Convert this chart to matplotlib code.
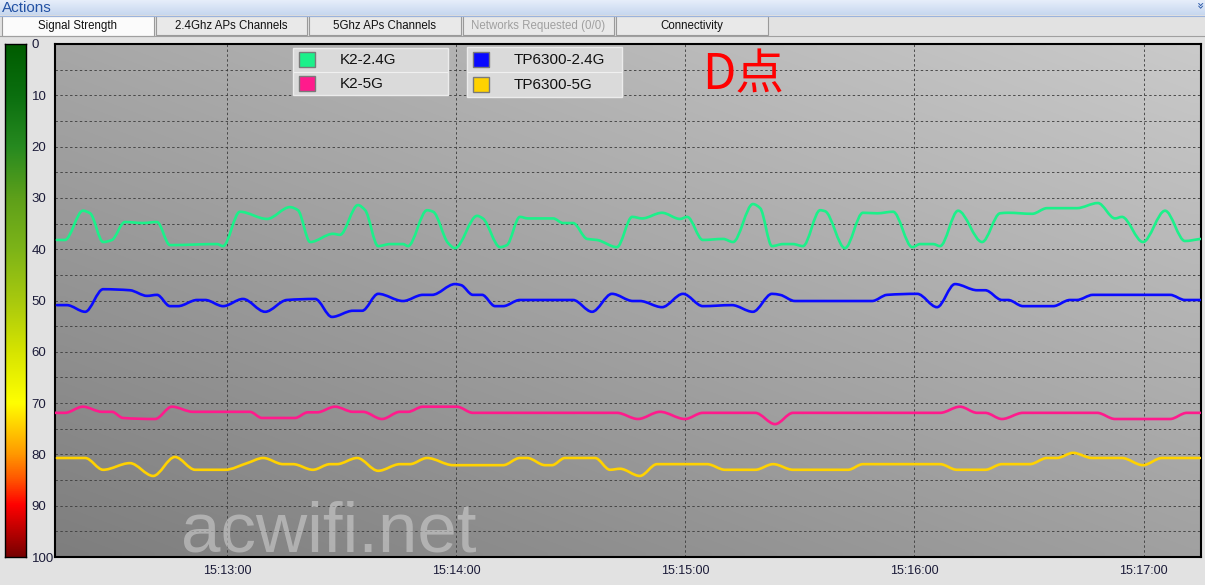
import numpy as np
import matplotlib
matplotlib.use('Agg')
import matplotlib.pyplot as plt
from matplotlib.path import Path
from matplotlib.patches import PathPatch, Rectangle
from matplotlib.colors import LinearSegmentedColormap, to_rgb

plt.rcParams['font.family'] = ['Liberation Sans', 'DejaVu Sans']

# seconds after 15:12:00, signal value (0 top .. 100 bottom)
k2_24_t = [15.5, 17.6, 22.3, 24.2, 27.6, 29.9, 33.3, 38.0, 41.7, 45.1, 57.4, 59.0,
           63.4, 70.5, 76.5, 78.6, 81.8, 87.8, 89.6, 94.3, 96.2, 99.6, 102.7, 106.1,
           107.4, 112.4, 114.0, 117.9, 119.7, 125.5, 127.0, 131.5, 133.3, 136.7,
           138.8, 145.4, 148.0, 150.6, 154.3, 156.9, 162.1, 166.1, 168.7, 173.9,
           178.6, 180.5, 184.6, 189.9, 192.5, 197.7, 199.6, 202.7, 205.6, 208.2,
           210.8, 215.3, 216.6, 221.8, 226.5, 230.2, 234.4, 239.4, 241.5, 244.9,
           246.7, 251.4, 257.7, 262.4, 264.5, 270.8, 274.7, 282.5, 288.0, 292.5,
           294.3, 299.8, 305.6, 310.8, 314.8]
k2_24_v = [38.2, 38.2, 32.5, 33.0, 38.6, 38.2, 34.7, 34.9, 34.7, 39.2, 39.0, 39.4,
           32.7, 34.1, 31.8, 32.4, 38.6, 37.0, 37.2, 31.4, 32.4, 39.4, 39.0, 39.0,
           39.4, 32.4, 32.7, 38.8, 39.8, 33.5, 34.0, 39.6, 39.2, 33.7,
           34.0, 34.0, 34.9, 34.9, 38.0, 38.2, 39.6, 33.7, 34.0, 32.9,
           34.1, 33.7, 38.2, 38.0, 38.6, 31.2, 32.0, 39.4, 39.0, 39.0,
           39.4, 32.4, 32.6, 39.8, 32.9, 33.0, 32.7, 39.6, 39.0, 39.0,
           39.4, 32.5, 38.6, 33.0, 32.9, 33.1, 32.0, 32.0, 31.0, 34.0,
           33.7, 38.6, 32.5, 38.4, 38.0]

tp_24_t = [15.5, 18.1, 22.9, 27.6, 34.6, 39.1, 41.7, 45.1, 47.2, 52.2, 54.3, 59.0,
           64.2, 70.0, 75.7, 83.1, 87.5, 93.0, 95.4, 99.6, 106.1, 111.3, 113.7,
           119.7, 121.3, 124.4, 126.8, 130.2, 132.3, 136.7, 150.6, 155.6, 160.8,
           166.3, 168.1, 173.9, 179.4, 184.6, 192.2, 197.7, 202.7, 204.8, 208.7,
           228.9, 232.8, 240.7, 245.9, 250.6, 256.4, 258.5, 262.9, 264.5, 268.4,
           276.3, 280.7, 282.5, 286.7, 306.9, 310.8, 314.8]
tp_24_v = [50.9, 50.9, 52.2, 47.8, 48.0, 49.1, 48.9, 51.1, 51.1, 49.9, 49.9, 51.1,
           49.7, 52.2, 49.9, 49.7, 53.2, 52.0, 52.0, 48.7, 50.1, 48.9, 48.9,
           46.8, 47.0, 48.9, 48.9, 51.1, 51.1, 49.9, 49.9, 52.2, 48.7,
           50.1, 50.1, 51.3, 48.7, 51.1, 50.9, 52.2, 48.7, 48.9, 50.1,
           50.1, 48.9, 48.7, 51.3, 46.8, 48.0, 48.0, 49.9, 49.9, 51.1,
           51.1, 49.9, 49.9, 48.9, 48.9, 49.9, 49.9]

k2_5_t = [15.0, 17.6, 22.3, 27.3, 29.9, 32.8, 41.2, 45.6, 51.1, 66.0, 69.2, 77.8,
          81.2, 83.6, 88.3, 93.0, 95.6, 100.6, 105.3, 107.4, 111.3, 120.2, 124.4,
          162.1, 167.6, 173.4, 179.9, 184.6, 198.3, 203.5, 208.2, 246.7, 251.9,
          256.4, 258.5, 262.9, 268.4, 287.8, 292.5, 306.9, 311.3, 314.8]
k2_5_v = [71.9, 71.9, 70.7, 71.7, 71.7, 72.9, 73.1, 70.7, 71.7, 71.7, 72.9, 72.9,
          71.8, 71.8, 70.7, 71.7, 71.7, 73.1, 71.7, 71.7, 70.7, 70.7, 71.9,
          71.9, 73.1, 71.7, 73.1, 71.9, 71.9, 74.1, 71.9, 71.9, 70.7,
          71.9, 71.9, 73.1, 71.9, 71.9, 73.1, 73.1, 71.9, 71.9]

tp_5_t = [15.5, 22.9, 27.6, 34.6, 40.7, 46.4, 51.7, 59.5, 65.3, 69.5, 74.7, 77.3,
          82.5, 87.0, 88.8, 94.1, 99.6, 105.3, 107.9, 112.4, 119.2, 132.3, 136.7,
          138.6, 143.3, 145.1, 148.5, 156.4, 160.3, 162.9, 168.1, 172.6, 185.7,
          190.4, 198.3, 203.0, 208.2, 222.6, 226.5, 246.7, 251.1, 258.5, 262.9,
          270.2, 274.7, 277.3, 281.5, 286.5, 294.3, 299.8, 304.8, 314.8]
tp_5_v = [80.7, 80.7, 83.0, 81.7, 84.2, 80.5, 83.0, 83.0, 81.7, 80.7, 81.9, 81.9,
          83.0, 81.9, 81.9, 80.7, 83.2, 81.9, 81.9, 80.7, 82.1, 82.1, 80.7,
          80.7, 82.1, 82.1, 80.7, 80.7, 83.0, 82.8, 84.2, 81.9, 81.9,
          83.0, 83.0, 81.9, 83.0, 83.0, 81.9, 81.9, 83.0, 83.0, 81.9,
          81.9, 80.7, 80.7, 79.7, 80.7, 80.7, 82.1, 80.7, 80.7]

names = ['K2-2.4G', 'K2-5G', 'TP6300-2.4G', 'TP6300-5G']
colors = ['#1cf08a', '#ff1a8c', '#0a0aff', '#ffd200']
series = [(k2_24_t, k2_24_v), (k2_5_t, k2_5_v), (tp_24_t, tp_24_v), (tp_5_t, tp_5_v)]

tick_secs = [60, 120, 180, 240, 300]
tick_labels = ['15:13:00', '15:14:00', '15:15:00', '15:16:00', '15:17:00']
tabs = ['Signal Strength', '2.4Ghz APs Channels', '5Ghz APs Channels',
        'Networks Requested (0/0)', 'Connectivity']

W, H = 1205, 585


def px(x0, y0, x1, y1):
    return [x0 / W, 1 - y1 / H, (x1 - x0) / W, (y1 - y0) / H]


def smooth_path(xs, ys):
    # monotone cubic (pchip-style tangents) drawn as bezier segments
    x = np.asarray(xs, float)
    y = np.asarray(ys, float)
    h = np.diff(x)
    d = np.diff(y) / h
    m = np.zeros_like(y)
    m[0], m[-1] = d[0], d[-1]
    for i in range(1, len(x) - 1):
        if d[i - 1] * d[i] > 0:
            w1 = 2 * h[i] + h[i - 1]
            w2 = h[i] + 2 * h[i - 1]
            m[i] = (w1 + w2) / (w1 / d[i - 1] + w2 / d[i])
    verts = [(x[0], y[0])]
    codes = [Path.MOVETO]
    for i in range(len(x) - 1):
        verts += [(x[i] + h[i] / 3, y[i] + m[i] * h[i] / 3),
                  (x[i + 1] - h[i] / 3, y[i + 1] - m[i + 1] * h[i] / 3),
                  (x[i + 1], y[i + 1])]
        codes += [Path.CURVE4] * 3
    return Path(verts, codes)


fig = plt.figure(figsize=(W / 100, H / 100), dpi=100, facecolor='#e2e2e2')

# window chrome: header + tabs
chrome = fig.add_axes([0, 0, 1, 1], zorder=0)
chrome.set_xlim(0, W)
chrome.set_ylim(H, 0)
chrome.axis('off')
hg = np.linspace(0, 1, 32)[:, None, None]
head = (1 - hg) * np.array(to_rgb('#e6eefa')) + hg * np.array(to_rgb('#c7d7ef'))
chrome.imshow(np.repeat(head, 2, axis=1), extent=(0, W, 15, 0), aspect='auto')
chrome.plot([0, W], [15.5, 15.5], color='#9bb3dc', lw=0.8)
chrome.text(2, 8, 'Actions', fontsize=11, color='#2352a4', va='center')
chrome.text(1199, 6, '»', fontsize=9, color='#2352a4', va='center', ha='center',
            rotation=-90, family='DejaVu Sans')
chrome.plot([0, W], [35.5, 35.5], color='#a0a0a0', lw=0.8)
tab_w = 153.5
for i, lab in enumerate(tabs):
    x0 = 2 + i * tab_w
    fc = '#fbfbfb' if i == 0 else '#e9e9e9'
    chrome.add_patch(Rectangle((x0, 16), tab_w - 2, 19.5 if i == 0 else 19,
                               fc=fc, ec='#9a9a9a', lw=0.8))
    chrome.text(x0 + (tab_w - 2) / 2, 26, lab, fontsize=8.3, ha='center', va='center',
                color='#a0a0a0' if i == 3 else '#111111')

# main plot
ax = fig.add_axes(px(55, 44, 1201, 557), zorder=1)
gy = np.linspace(0, 1, 64)[:, None]
gx = np.linspace(0, 1, 64)[None, :]
g = np.clip(0.655 + 0.135 * gx - 0.16 * gy, 0, 1)
ax.imshow(np.dstack([g, g, g]), extent=(15, 315, 100, 0), aspect='auto',
          interpolation='bilinear', zorder=0)
ax.set_xlim(15, 315)
ax.set_ylim(100, 0)
ax.set_yticks(range(5, 100, 5))
ax.set_xticks(tick_secs, tick_labels)
ax.tick_params(axis='y', length=0, labelleft=False)
ax.tick_params(axis='x', length=0, pad=6, labelsize=9, labelcolor='#1b1b38')
ax.grid(True, color='#3e3e3e', lw=0.7, ls=(0, (2.5, 2.5)), alpha=0.9)
for s in ax.spines.values():
    s.set_color('black')
    s.set_linewidth(1.5)
for (t, v), c in zip(series, colors):
    ax.add_patch(PathPatch(smooth_path(t, v), fill=False, ec=c, lw=1.9,
                           capstyle='round', joinstyle='round', zorder=3))

# signal colour bar
cax = fig.add_axes(px(5, 44, 26, 557), zorder=1)
cmap = LinearSegmentedColormap.from_list('sig', [
    (0.0, '#005c00'), (0.1, '#0b6f0f'), (0.2, '#278a20'), (0.3, '#5ea01a'),
    (0.4, '#7db418'), (0.5, '#a8c90e'), (0.6, '#d6e400'), (0.7, '#ffff00'),
    (0.75, '#ffcc00'), (0.8, '#ff9900'), (0.85, '#ff5500'), (0.9, '#ff0000'),
    (1.0, '#780000')])
cax.imshow(np.linspace(0, 1, 256)[:, None], extent=(0, 1, 100, 0), aspect='auto',
           cmap=cmap)
cax.set_ylim(100, 0)
cax.set_xticks([])
cax.yaxis.tick_right()
cax.set_yticks(range(0, 101, 10))
cax.tick_params(axis='y', length=0, pad=4, labelsize=9.5, labelcolor='#1b1b38')
for s in cax.spines.values():
    s.set_color('black')
    s.set_linewidth(1.0)

# overlay: legend boxes, label, watermark
ov = fig.add_axes([0, 0, 1, 1], zorder=5)
ov.set_xlim(0, W)
ov.set_ylim(H, 0)
ov.axis('off')
ov.patch.set_alpha(0)
boxes = [(293, 48, 448, 95), (467, 47, 622, 97)]
for b, (x0, y0, x1, y1) in enumerate(boxes):
    ov.add_patch(Rectangle((x0, y0), x1 - x0, y1 - y0, fc='#dadada', ec='#ececec', lw=1))
    mid = (y0 + y1) / 2
    ov.plot([x0 + 1, x1 - 1], [mid, mid], color='#f0f0f0', lw=0.8)
    for r in range(2):
        k = b * 2 + r
        cy = y0 + (mid - y0) / 2 if r == 0 else mid + (y1 - mid) / 2
        ov.add_patch(Rectangle((x0 + 6, cy - 7.5), 16, 15, fc=colors[k], ec='#7a7a7a', lw=1))
        ov.text(x0 + 47, cy + 0.5, names[k], fontsize=11, va='center', color='#111111')

ov.text(702, 89, 'D点', fontsize=35, color='#ff0000', va='baseline',
        family=['Noto Sans CJK SC', 'DejaVu Sans'])
ov.text(181, 551, 'acwifi.net', fontsize=51, color='#d4d4d4', alpha=0.55, va='baseline')

fig.savefig('out.png', dpi=100, facecolor=fig.get_facecolor())
